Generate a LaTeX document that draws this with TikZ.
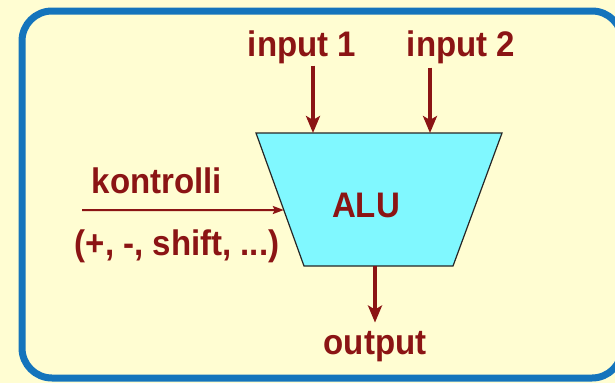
\documentclass[tikz,border=0pt]{standalone}
\usepackage{fontspec}
\setmainfont{Liberation Sans}[FakeStretch=0.93]
\definecolor{ALUcyan}{HTML}{80F8FF}
\definecolor{ALUred}{HTML}{8B1414}
\definecolor{ALUblue}{HTML}{1474BC}
\definecolor{ALUpaper}{HTML}{FFFDD2}
\usetikzlibrary{arrows.meta, calc, positioning}

\begin{document}
\begin{tikzpicture}[x=1pt, y=-1pt,
      lbl/.style={text=ALUred, font=\bfseries\fontsize{35.5}{38}\selectfont, inner sep=0pt},
      sig/.style={ALUred, line width=3.2pt, -{Stealth[length=17pt, width=14pt, inset=4pt]}}]
   \useasboundingbox (0,0) rectangle (615,383);
   \fill[ALUpaper] (0,0) rectangle (615,383);
   % frame, cut off on the right
   \begin{scope}
      \clip (0,0) rectangle (615,383);
      \draw[ALUblue, line width=7pt, rounded corners=30pt] (22,11) rectangle (622,378);
   \end{scope}
   % ALU body
   \coordinate (tl) at (256,133);
   \coordinate (tr) at (502,133);
   \coordinate (br) at (453,266);
   \coordinate (bl) at (304,266);
   \draw[fill=ALUcyan, draw=black!85, line width=1.2pt] (tl) -- (tr) -- (br) -- (bl) -- cycle;
   \node[lbl] (alu) at (366,205) {ALU};
   % inputs
   \node[lbl] (in1) at (302,47) {input 1};
   \node[lbl] (in2) at (461,47) {input 2};
   \coordinate (a1) at (313,133);
   \coordinate (a2) at (430,133);
   \draw[sig, shorten <=2pt] (in1.south -| a1) -- (a1);
   \draw[sig, shorten <=4pt] (in2.south -| a2) -- (a2);
   % control
   \node[lbl] (ctrl) at (157,181) {kontrolli};
   \node[lbl] (ops) at (177,246) {(+, -, shift, ...)};
   \coordinate (c0) at (82,210);
   \draw[ALUred, line width=2pt, -{Stealth[length=11pt, width=8pt, inset=2pt]}]
      (c0) -- ($(tl)!0.579!(bl)$);
   % output
   \node[lbl] (out) at (375,347) {output};
   \coordinate (o1) at (375,266);
   \draw[sig, shorten >=9pt] (o1) -- (out.north);
\end{tikzpicture}
\end{document}
